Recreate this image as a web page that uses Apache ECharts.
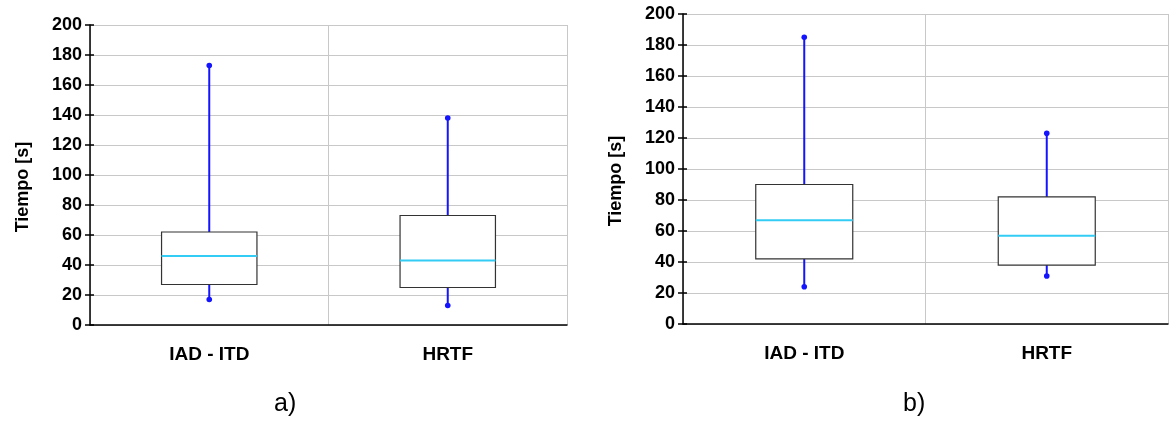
<!DOCTYPE html>
<html>
<head>
<meta charset="utf-8">
<script src="https://cdn.jsdelivr.net/npm/echarts@6/dist/echarts.min.js"></script>
<style>
  html, body { margin: 0; padding: 0; background: #fff; }
  #chart { width: 1169px; height: 421px; }
</style>
</head>
<body>
<div id="chart"></div>
<script>
// categorias y estadisticos de cada caja (min, Q1, mediana, Q3, max)
const categories = ['IAD - ITD', 'HRTF'];
const yTicks = [0, 200, 20];

// panel a)
const minA = [17, 13];
const q1A = [27, 25];
const medianA = [46, 43];
const q3A = [62, 73];
const maxA = [173, 138];

// panel b)
const minB = [24, 31];
const q1B = [42, 38];
const medianB = [67, 57];
const q3B = [90, 82];
const maxB = [185, 123];

const FONT = 'Liberation Sans, Arial, sans-serif';

function boxData(mins, q1s, meds, q3s, maxs) {
    return categories.map((c, i) => [i, mins[i], q1s[i], meds[i], q3s[i], maxs[i]]);
}

function renderBox(params, api) {
    const x = api.value(0);
    const lo = api.coord([x, api.value(1)]);
    const q1 = api.coord([x, api.value(2)]);
    const med = api.coord([x, api.value(3)]);
    const q3 = api.coord([x, api.value(4)]);
    const hi = api.coord([x, api.value(5)]);
    const half = api.size([1, 0])[0] * 0.2;
    const cx = med[0];
    const blue = { stroke: '#1414ff', lineWidth: 2 };
    return {
        type: 'group',
        children: [
            { type: 'line', shape: { x1: cx, y1: hi[1], x2: cx, y2: q3[1] }, style: blue },
            { type: 'line', shape: { x1: cx, y1: q1[1], x2: cx, y2: lo[1] }, style: blue },
            {
                type: 'rect',
                shape: { x: cx - half, y: q3[1], width: half * 2, height: q1[1] - q3[1] },
                style: { fill: '#fff', stroke: '#333', lineWidth: 1.2 }
            },
            {
                type: 'line',
                shape: { x1: cx - half, y1: med[1], x2: cx + half, y2: med[1] },
                style: { stroke: '#33ccf5', lineWidth: 2 }
            },
            { type: 'circle', shape: { cx: cx, cy: hi[1], r: 2.8 }, style: { fill: '#1414ff' } },
            { type: 'circle', shape: { cx: cx, cy: lo[1], r: 2.8 }, style: { fill: '#1414ff' } }
        ]
    };
}

function xAxisFor(gridIndex) {
    return {
        type: 'category',
        gridIndex: gridIndex,
        data: categories,
        axisLine: { lineStyle: { color: '#000', width: 1.5 } },
        axisTick: { length: 6, lineStyle: { color: '#000', width: 1.5 } },
        axisLabel: { color: '#000', fontWeight: 'bold', fontSize: 19, fontFamily: FONT, margin: 20 },
        splitLine: { show: true, lineStyle: { color: '#c8c8c8', width: 1 } }
    };
}

function yAxisFor(gridIndex) {
    return {
        type: 'value',
        gridIndex: gridIndex,
        position: 'left',
        min: yTicks[0],
        max: yTicks[1],
        interval: yTicks[2],
        name: 'Tiempo [s]',
        nameLocation: 'middle',
        nameGap: 58,
        nameTextStyle: {
            color: '#000', fontWeight: 'bold', fontSize: 18, fontFamily: FONT,
            padding: [0, 24, 0, 0]
        },
        axisLine: { show: true, lineStyle: { color: '#000', width: 1.5 } },
        axisTick: { show: true, length: 5, lineStyle: { color: '#000', width: 1.5 } },
        axisLabel: { color: '#000', fontWeight: 'bold', fontSize: 18, fontFamily: FONT, margin: 8 },
        splitLine: { show: true, lineStyle: { color: '#c8c8c8', width: 1 } }
    };
}

// segundo eje solo para las marcas hacia dentro (las marcas cruzan el eje)
function innerTicksFor(gridIndex) {
    return {
        type: 'value',
        gridIndex: gridIndex,
        position: 'left',
        min: yTicks[0],
        max: yTicks[1],
        interval: yTicks[2],
        axisLine: { show: false },
        axisTick: { show: true, inside: true, length: 4, lineStyle: { color: '#000', width: 1.5 } },
        axisLabel: { show: false },
        splitLine: { show: false }
    };
}

const chart = echarts.init(document.getElementById('chart'), null, { renderer: 'canvas' });
chart.setOption({
    animation: false,
    backgroundColor: '#fff',
    title: [
        { text: 'a)', left: 269, top: 387, textStyle: { fontSize: 25, fontWeight: 'normal', color: '#000', fontFamily: FONT } },
        { text: 'b)', left: 898, top: 387, textStyle: { fontSize: 25, fontWeight: 'normal', color: '#000', fontFamily: FONT } }
    ],
    grid: [
        { left: 90, top: 25, width: 477, height: 300 },
        { left: 683, top: 14, width: 485, height: 310 }
    ],
    xAxis: [xAxisFor(0), xAxisFor(1)],
    yAxis: [yAxisFor(0), yAxisFor(1), innerTicksFor(0), innerTicksFor(1)],
    series: [
        {
            type: 'custom',
            xAxisIndex: 0,
            yAxisIndex: 0,
            renderItem: renderBox,
            encode: { x: 0, y: [1, 2, 3, 4, 5] },
            data: boxData(minA, q1A, medianA, q3A, maxA)
        },
        {
            type: 'custom',
            xAxisIndex: 1,
            yAxisIndex: 1,
            renderItem: renderBox,
            encode: { x: 0, y: [1, 2, 3, 4, 5] },
            data: boxData(minB, q1B, medianB, q3B, maxB)
        }
    ]
});
</script>
</body>
</html>
